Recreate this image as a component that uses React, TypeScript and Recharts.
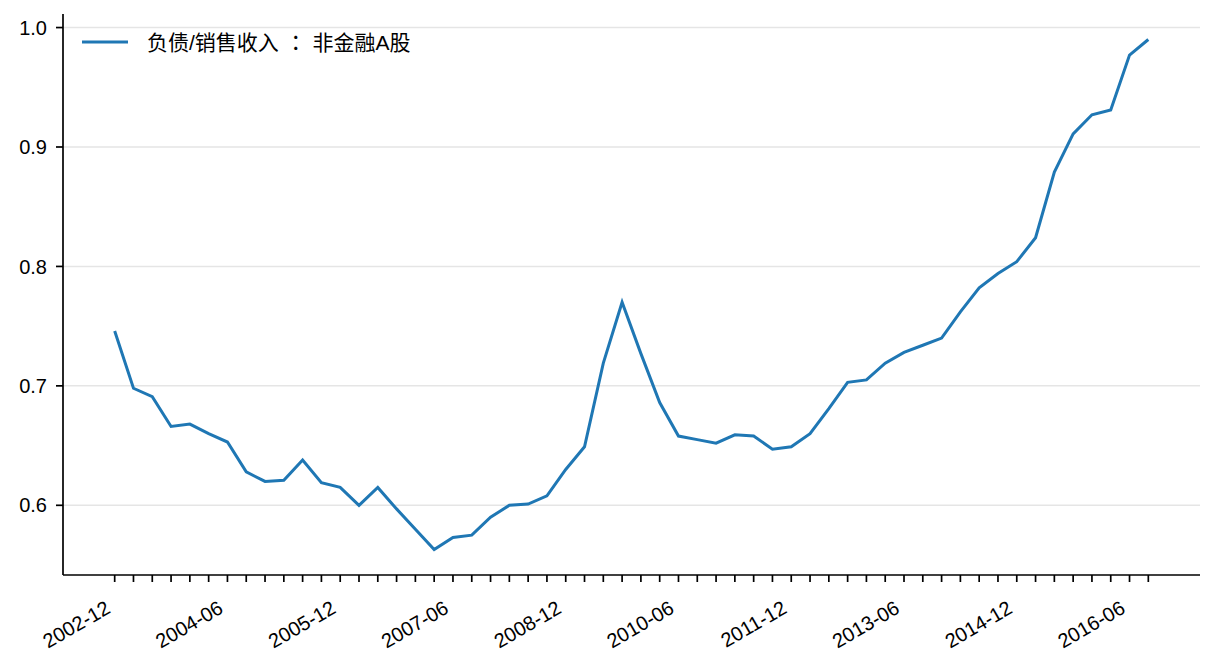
import React from 'react';
import { LineChart, Line, XAxis, YAxis, CartesianGrid } from 'recharts';

// quarterly report dates
const quarters = [
  '2002-12',
  '2003-03', '2003-06', '2003-09', '2003-12',
  '2004-03', '2004-06', '2004-09', '2004-12',
  '2005-03', '2005-06', '2005-09', '2005-12',
  '2006-03', '2006-06', '2006-09', '2006-12',
  '2007-03', '2007-06', '2007-09', '2007-12',
  '2008-03', '2008-06', '2008-09', '2008-12',
  '2009-03', '2009-06', '2009-09', '2009-12',
  '2010-03', '2010-06', '2010-09', '2010-12',
  '2011-03', '2011-06', '2011-09', '2011-12',
  '2012-03', '2012-06', '2012-09', '2012-12',
  '2013-03', '2013-06', '2013-09', '2013-12',
  '2014-03', '2014-06', '2014-09', '2014-12',
  '2015-03', '2015-06', '2015-09', '2015-12',
  '2016-03', '2016-06', '2016-09',
];

// 负债/销售收入：非金融A股
const debtToSales = [
  0.746,
  0.698, 0.691, 0.666, 0.668,
  0.660, 0.653, 0.628, 0.620,
  0.621, 0.638, 0.619, 0.615,
  0.600, 0.615, 0.597, 0.580,
  0.563, 0.573, 0.575, 0.590,
  0.600, 0.601, 0.608, 0.630,
  0.649, 0.719, 0.770, 0.727,
  0.686, 0.658, 0.655, 0.652,
  0.659, 0.658, 0.647, 0.649,
  0.660, 0.681, 0.703, 0.705,
  0.719, 0.728, 0.734, 0.740,
  0.762, 0.782, 0.794, 0.804,
  0.824, 0.879, 0.911, 0.927,
  0.931, 0.977, 0.990,
];

const xTickLabels = [
  '2002-12', '2004-06', '2005-12', '2007-06', '2008-12',
  '2010-06', '2011-12', '2013-06', '2014-12', '2016-06',
];

const yTicks = [0.6, 0.7, 0.8, 0.9, 1.0];

const NAME_LEFT = '负债/销售收入';
const NAME_RIGHT = '非金融A股';
const SERIES_NAME = NAME_LEFT + '：' + NAME_RIGHT;
const LINE_COLOR = '#1f77b4';
const FONT = '"Liberation Sans", Arial, "Noto Sans CJK SC", sans-serif';
const FONT_SIZE = 20;

const rows = quarters.map((q, i) => ({ idx: i, date: q, value: debtToSales[i] }));

// matplotlib-like 5% margins
const n = quarters.length;
const xPad = (n - 1) * 0.05;
const yMin = Math.min(...debtToSales);
const yMax = Math.max(...debtToSales);
const yPad = (yMax - yMin) * 0.05;

const XTick = (props: any) => {
  const { x, y, payload } = props;
  const label = quarters[payload.value];
  if (!xTickLabels.includes(label)) return null;
  const ax = x - 3;
  const ay = y + 30;
  return (
    <text
      x={ax}
      y={ay}
      textAnchor="end"
      fontSize={FONT_SIZE}
      fontFamily={FONT}
      fill="#000"
      transform={`rotate(-30, ${ax}, ${ay})`}
    >
      {label}
    </text>
  );
};

// legend drawn on top of the chart, like matplotlib's loc='upper left'
const LegendBox = () => (
  <div
    style={{
      position: 'absolute',
      left: 82,
      top: 28,
      height: 28,
      display: 'flex',
      alignItems: 'center',
      fontFamily: FONT,
      fontSize: 21,
      color: '#000',
      whiteSpace: 'nowrap',
      lineHeight: '28px',
    }}
  >
    <svg width={46} height={6} style={{ marginRight: 19 }}>
      <line x1={0} y1={3} x2={46} y2={3} stroke={LINE_COLOR} strokeWidth={3} />
    </svg>
    <span>
      {NAME_LEFT}
      <span style={{ fontFamily: '"Noto Sans CJK TC", sans-serif', margin: '0 0.3em' }}>：</span>
      {NAME_RIGHT}
    </span>
  </div>
);

export default function App() {
  return (
    <div style={{ position: 'absolute', left: 0, top: 0, width: 1216, height: 672, background: '#fff' }}>
      <LineChart
        width={1216}
        height={672}
        data={rows}
        margin={{ top: 14, right: 16, bottom: 0, left: 0 }}
      >
        <CartesianGrid vertical={false} horizontalValues={yTicks} stroke="#e5e5e5" strokeWidth={1.5} />
        <XAxis
          dataKey="idx"
          type="number"
          domain={[-xPad, n - 1 + xPad]}
          ticks={quarters.map((_, i) => i)}
          interval={0}
          height={97}
          tick={<XTick />}
          tickSize={7}
          tickMargin={0}
          axisLine={{ stroke: '#000', strokeWidth: 1.7 }}
          tickLine={{ stroke: '#000', strokeWidth: 1.7 }}
          allowDataOverflow
        />
        <YAxis
          type="number"
          domain={[yMin - yPad, yMax + yPad]}
          ticks={yTicks}
          interval={0}
          width={63}
          tickSize={7}
          tickMargin={9}
          tickFormatter={(v: number) => v.toFixed(1)}
          tick={{ fontSize: FONT_SIZE, fontFamily: FONT, fill: '#000' }}
          axisLine={{ stroke: '#000', strokeWidth: 1.7 }}
          tickLine={{ stroke: '#000', strokeWidth: 1.7 }}
          allowDataOverflow
        />
        <Line
          type="linear"
          dataKey="value"
          name={SERIES_NAME}
          stroke={LINE_COLOR}
          strokeWidth={3}
          dot={false}
          activeDot={false}
          isAnimationActive={false}
        />
      </LineChart>
      <LegendBox />
    </div>
  );
}
